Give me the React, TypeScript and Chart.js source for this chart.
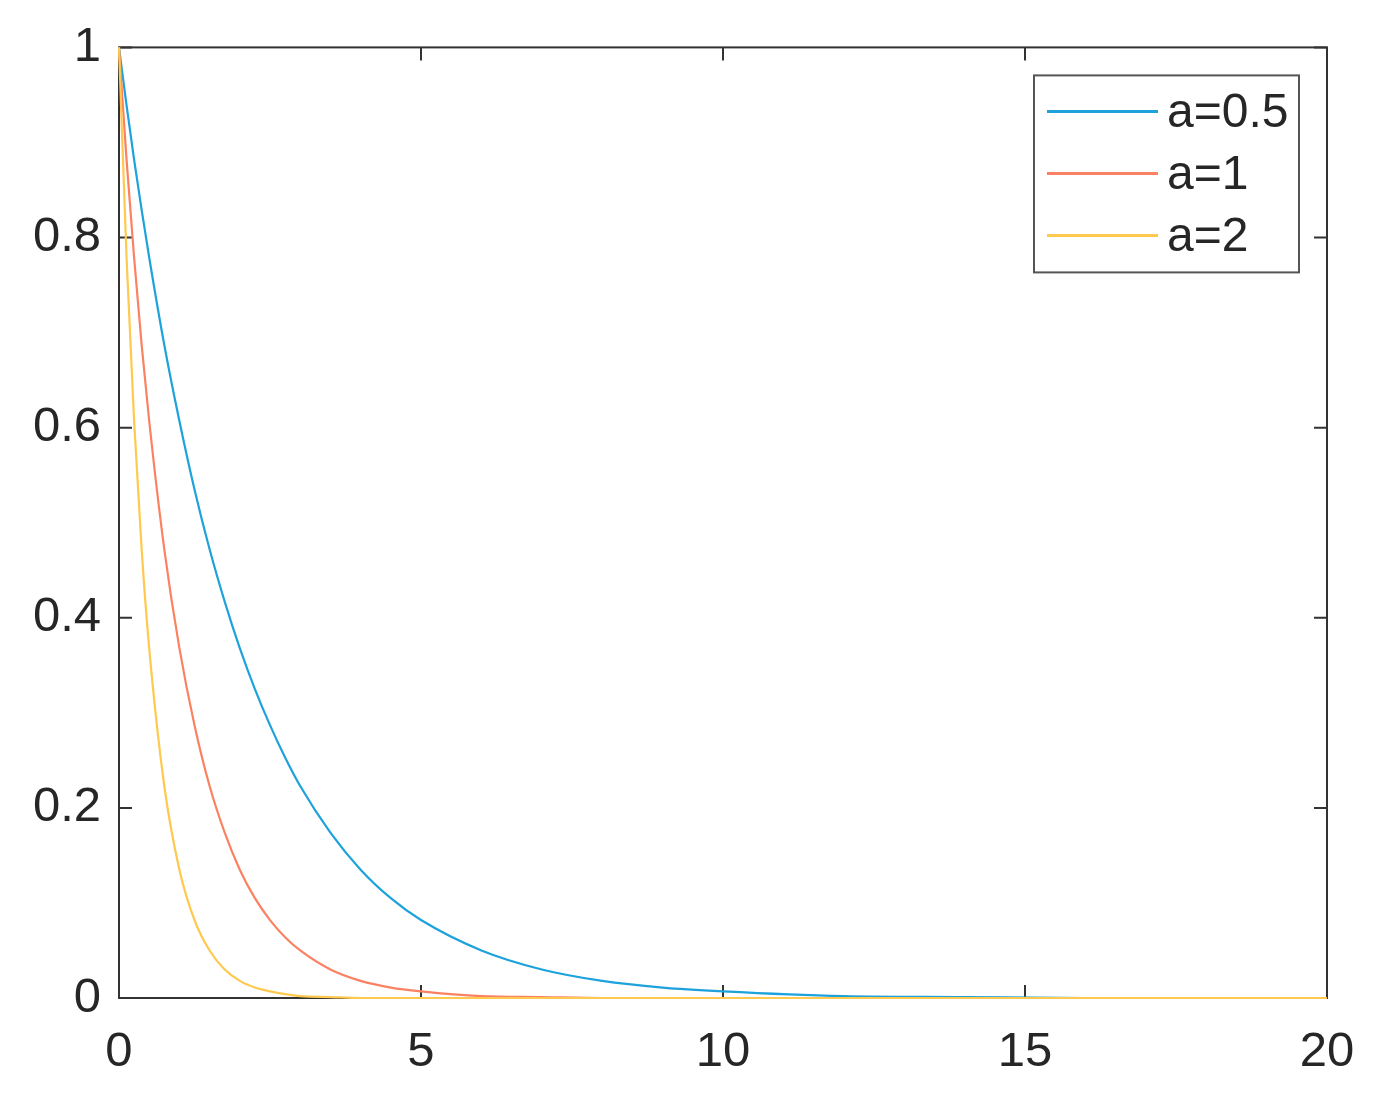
import React, { useEffect, useRef } from "react";
import { Chart, registerables } from "chart.js";

Chart.register(...registerables);

const xValues = [0, 0.125, 0.25, 0.375, 0.5, 0.75, 1, 1.25, 1.5, 1.75, 2, 2.25, 2.5, 2.75, 3, 3.5, 4, 4.5, 5, 6, 7, 8, 9, 10, 12, 14, 16, 18, 20];
const seriesA05 = [1, 0.939, 0.882, 0.829, 0.779, 0.687, 0.607, 0.535, 0.472, 0.417, 0.368, 0.325, 0.287, 0.253, 0.223, 0.174, 0.135, 0.105, 0.082, 0.05, 0.03, 0.018, 0.011, 0.007, 0.002, 0.001, 0, 0, 0];
const seriesA1 = [1, 0.882, 0.779, 0.687, 0.607, 0.472, 0.368, 0.287, 0.223, 0.174, 0.135, 0.105, 0.082, 0.064, 0.05, 0.03, 0.018, 0.011, 0.007, 0.002, 0.001, 0, 0, 0, 0, 0, 0, 0, 0];
const seriesA2 = [1, 0.779, 0.607, 0.472, 0.368, 0.223, 0.135, 0.082, 0.05, 0.03, 0.018, 0.011, 0.007, 0.004, 0.002, 0.001, 0, 0, 0, 0, 0, 0, 0, 0, 0, 0, 0, 0, 0];
const seriesLabels = ["a=0.5", "a=1", "a=2"];
const seriesColors = ["#1EA2DC", "#FA8262", "#FFC84E"];
const xTicks = [0, 5, 10, 15, 20];
const yTicks = [0, 0.2, 0.4, 0.6, 0.8, 1];

const FONT = '"Liberation Sans", Arial, sans-serif';
const TEXT = "#262626";

const boxPlugin = {
  id: "matlabBox",
  beforeDatasetsDraw(chart: any) {
    const { ctx, chartArea: a, scales } = chart;
    ctx.save();
    ctx.strokeStyle = "#333333";
    ctx.lineWidth = 2;
    ctx.strokeRect(a.left, a.top, a.right - a.left, a.bottom - a.top);
    const tl = 13;
    ctx.lineWidth = 2;
    ctx.beginPath();
    for (const v of xTicks) {
      const px = scales.x.getPixelForValue(v);
      ctx.moveTo(px, a.bottom);
      ctx.lineTo(px, a.bottom - tl);
      ctx.moveTo(px, a.top);
      ctx.lineTo(px, a.top + tl);
    }
    for (const v of yTicks) {
      const py = scales.y.getPixelForValue(v);
      ctx.moveTo(a.left, py);
      ctx.lineTo(a.left + tl, py);
      ctx.moveTo(a.right, py);
      ctx.lineTo(a.right - tl, py);
    }
    ctx.stroke();
    ctx.restore();
  },
  afterDraw(chart: any) {
    const { ctx, chartArea: a } = chart;
    const bx = a.right - 293;
    const by = a.top + 28;
    const bw = 265;
    const bh = 197;
    ctx.save();
    ctx.fillStyle = "#ffffff";
    ctx.fillRect(bx, by, bw, bh);
    ctx.strokeStyle = "#555555";
    ctx.lineWidth = 2;
    ctx.strokeRect(bx, by, bw, bh);
    ctx.font = `48px ${FONT}`;
    ctx.textBaseline = "middle";
    ctx.textAlign = "left";
    chart.data.datasets.forEach((ds: any, i: number) => {
      const y = by + 36 + i * 62;
      ctx.strokeStyle = ds.borderColor;
      ctx.lineWidth = 3;
      ctx.beginPath();
      ctx.moveTo(bx + 13, y);
      ctx.lineTo(bx + 124, y);
      ctx.stroke();
      ctx.fillStyle = TEXT;
      ctx.fillText(ds.label, bx + 133, y + 2);
    });
    ctx.restore();
  },
};

export default function App() {
  const ref = useRef<HTMLCanvasElement | null>(null);
  useEffect(() => {
    if (!ref.current) return;
    const all = [seriesA05, seriesA1, seriesA2];
    const chart = new Chart(ref.current, {
      type: "line",
      data: {
        datasets: all.map((vals, i) => ({
          label: seriesLabels[i],
          data: xValues.map((x, j) => ({ x, y: vals[j] })),
          borderColor: seriesColors[i],
          backgroundColor: seriesColors[i],
          borderWidth: 2.2,
          pointRadius: 0,
          cubicInterpolationMode: "monotone" as const,
          fill: false,
          clip: 6,
          order: 3 - i,
        })),
      },
      options: {
        animation: false,
        responsive: false,
        layout: { padding: { top: 45, right: 50, left: 0, bottom: 0 } },
        plugins: { legend: { display: false }, tooltip: { enabled: false } },
        scales: {
          x: {
            type: "linear",
            min: 0,
            max: 20,
            afterBuildTicks: (s: any) => {
              s.ticks = xTicks.map((v) => ({ value: v }));
            },
            afterFit: (s: any) => {
              s.height = 104;
              s.paddingRight = 0;
              s.paddingLeft = 0;
            },
            grid: { display: false, drawTicks: false },
            border: { display: false },
            ticks: {
              font: { family: FONT, size: 49 },
              color: TEXT,
              padding: 25,
              maxRotation: 0,
              autoSkip: false,
              callback: (v: any) => String(v),
            },
          },
          y: {
            type: "linear",
            min: 0,
            max: 1,
            afterBuildTicks: (s: any) => {
              s.ticks = yTicks.map((v) => ({ value: v }));
            },
            afterFit: (s: any) => {
              s.width = 119;
            },
            grid: { display: false, drawTicks: false },
            border: { display: false },
            ticks: {
              font: { family: FONT, size: 49 },
              color: TEXT,
              padding: 18,
              autoSkip: false,
              callback: (v: any) => String(Math.round(Number(v) * 10) / 10),
            },
          },
        },
      },
      plugins: [boxPlugin],
    });
    return () => chart.destroy();
  }, []);
  return (
    <div style={{ position: "absolute", left: 0, top: 0, width: 1377, height: 1102, background: "#fff" }}>
      <canvas ref={ref} width={1377} height={1102} style={{ display: "block" }} />
    </div>
  );
}
